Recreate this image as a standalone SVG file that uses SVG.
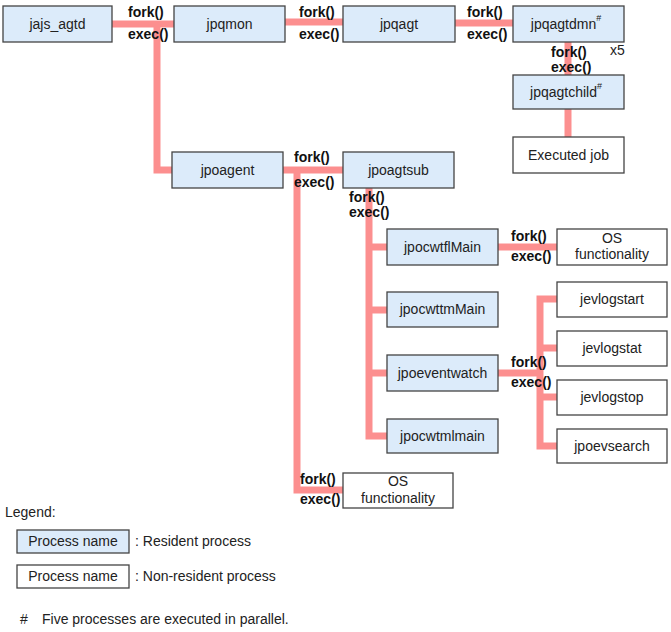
<svg xmlns="http://www.w3.org/2000/svg" width="671" height="632" viewBox="0 0 671 632">
<style>
.res{fill:#dcebfa;stroke:#444;stroke-width:1.3}
.non{fill:#fff;stroke:#444;stroke-width:1.3}
.t{font-family:"Liberation Sans",Arial,sans-serif;font-size:14px;fill:#222;text-anchor:middle}
.l{font-family:"Liberation Sans",Arial,sans-serif;font-size:14px;fill:#222}
.b{font-family:"Liberation Sans",Arial,sans-serif;font-size:14px;font-weight:bold;fill:#111}
.sup{font-size:9px}
.c{fill:none;stroke:#fc8f8f;stroke-width:7;stroke-linejoin:miter}
</style>
<g id="connectors">
<path class="c" d="M112,24 H174"/>
<path class="c" d="M157,24 V170 H172"/>
<path class="c" d="M285,22 H343"/>
<path class="c" d="M455,23 H513"/>
<path class="c" d="M568,42 V75"/>
<path class="c" d="M568,109 V137"/>
<path class="c" d="M283,170 H343"/>
<path class="c" d="M297,170 V490 H343"/>
<path class="c" d="M369,188 V436 H387"/>
<path class="c" d="M369,247 H387 M369,310 H387 M369,373 H387"/>
<path class="c" d="M498,247 H557"/>
<path class="c" d="M498,373 H540"/>
<path class="c" d="M557,299 H540 V446 H557 M540,348 H557 M540,397 H557"/>
</g>
<g id="labels">
<text class="b" x="128" y="17">fork()</text>
<text class="b" x="128" y="39">exec()</text>
<text class="b" x="299" y="17">fork()</text>
<text class="b" x="299" y="39">exec()</text>
<text class="b" x="467" y="17">fork()</text>
<text class="b" x="467" y="39">exec()</text>
<text class="b" x="551" y="57">fork()</text>
<text class="b" x="551" y="72">exec()</text>
<text class="l" x="610" y="55">x5</text>
<text class="b" x="294" y="162">fork()</text>
<text class="b" x="294" y="187">exec()</text>
<text class="b" x="349" y="202">fork()</text>
<text class="b" x="349" y="217">exec()</text>
<text class="b" x="511" y="241">fork()</text>
<text class="b" x="511" y="261">exec()</text>
<text class="b" x="511" y="367">fork()</text>
<text class="b" x="511" y="387">exec()</text>
<text class="b" x="300" y="484">fork()</text>
<text class="b" x="300" y="504">exec()</text>
</g>
<g id="jajs_agtd"><rect class="res" x="3" y="6" width="109" height="36"/><text class="t" x="57.5" y="29">jajs_agtd</text></g>
<g id="jpqmon"><rect class="res" x="174" y="6" width="111" height="36"/><text class="t" x="229.5" y="29">jpqmon</text></g>
<g id="jpqagt"><rect class="res" x="343" y="6" width="112" height="36"/><text class="t" x="399" y="29">jpqagt</text></g>
<g id="jpqagtdmn"><rect class="res" x="513" y="6" width="111" height="36"/><text class="t" x="566" y="29">jpqagtdmn<tspan class="sup" dy="-8">#</tspan></text></g>
<g id="jpqagtchild"><rect class="res" x="513" y="75" width="111" height="34"/><text class="t" x="566" y="97">jpqagtchild<tspan class="sup" dy="-8">#</tspan></text></g>
<g id="executed_job"><rect class="non" x="513" y="137" width="111" height="36"/><text class="t" x="568.5" y="160">Executed job</text></g>
<g id="jpoagent"><rect class="res" x="172" y="152" width="111" height="36"/><text class="t" x="227.5" y="175">jpoagent</text></g>
<g id="jpoagtsub"><rect class="res" x="343" y="152" width="111" height="36"/><text class="t" x="398.5" y="175">jpoagtsub</text></g>
<g id="jpocwtflMain"><rect class="res" x="387" y="229" width="111" height="36"/><text class="t" x="442.5" y="252">jpocwtflMain</text></g>
<g id="os1"><rect class="non" x="557" y="229" width="110" height="36"/><text class="t" x="612" y="243">OS</text><text class="t" x="612" y="259">functionality</text></g>
<g id="jpocwttmMain"><rect class="res" x="387" y="292" width="111" height="35"/><text class="t" x="442.5" y="314">jpocwttmMain</text></g>
<g id="jpoeventwatch"><rect class="res" x="387" y="355" width="111" height="36"/><text class="t" x="442.5" y="378">jpoeventwatch</text></g>
<g id="jpocwtmlmain"><rect class="res" x="387" y="419" width="111" height="34"/><text class="t" x="442.5" y="441">jpocwtmlmain</text></g>
<g id="jevlogstart"><rect class="non" x="557" y="282" width="110" height="35"/><text class="t" x="612" y="304">jevlogstart</text></g>
<g id="jevlogstat"><rect class="non" x="557" y="331" width="110" height="35"/><text class="t" x="612" y="353">jevlogstat</text></g>
<g id="jevlogstop"><rect class="non" x="557" y="380" width="110" height="35"/><text class="t" x="612" y="402">jevlogstop</text></g>
<g id="jpoevsearch"><rect class="non" x="557" y="429" width="110" height="34"/><text class="t" x="612" y="451">jpoevsearch</text></g>
<g id="os2"><rect class="non" x="343" y="473" width="110" height="35"/><text class="t" x="398" y="486">OS</text><text class="t" x="398" y="503">functionality</text></g>
<g id="legend">
<text class="l" x="5" y="517">Legend:</text>
<rect class="res" x="17" y="530" width="112" height="23"/><text class="t" x="73" y="546">Process name</text>
<text class="l" x="135" y="546">: Resident process</text>
<rect class="non" x="17" y="565" width="112" height="23"/><text class="t" x="73" y="581">Process name</text>
<text class="l" x="135" y="581">: Non-resident process</text>
<text class="l" x="20" y="624">#</text>
<text class="l" x="42" y="624">Five processes are executed in parallel.</text>
</g>
</svg>
